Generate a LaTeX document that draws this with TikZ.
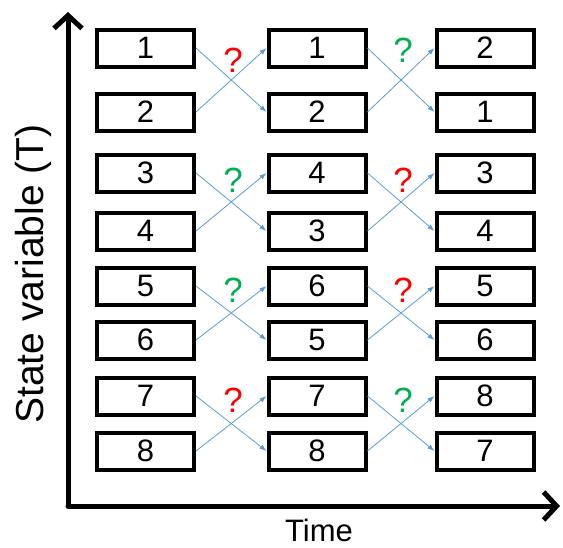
\documentclass[tikz,border=0pt]{standalone}
\usepackage{fontspec}
\setmainfont{Liberation Sans}
\usetikzlibrary{arrows.meta}
\definecolor{linkblue}{HTML}{5B9BD5}
\definecolor{qred}{HTML}{FF0000}
\definecolor{qgreen}{HTML}{00B050}
\begin{document}
\begin{tikzpicture}[x=1pt,y=-1pt,
  box/.style={draw=black,line width=4pt,minimum width=97pt,minimum height=37pt,inner sep=0pt,font=\fontsize{31}{31}\selectfont},
  link/.style={draw=linkblue,line width=0.8pt,-{Latex[length=7pt,width=5pt]}},
  axis/.style={line width=5pt,line cap=round,line join=round,-{Straight Barb[length=13pt,width=28pt,line width=5pt]}},
  qm/.style={inner sep=0pt,font=\fontsize{35}{35}\selectfont},
  lbl/.style={inner sep=0pt}]
\useasboundingbox (0,0) rectangle (563,547);
% axes
\coordinate (origin) at (68,506);
\coordinate (ytop) at (68,12);
\coordinate (xend) at (560,506);
\draw[axis] (origin) -- (ytop);
\draw[axis] (origin) -- (xend);
\node[lbl,rotate=90,anchor=base,font=\fontsize{39}{39}\selectfont] (ylab) at (43,274) {State variable (T)};
\node[lbl,anchor=base,font=\fontsize{31}{31}\selectfont] (xlab) at (319,541) {Time};
% boxes
\foreach \r/\y/\la/\lb/\lc in {1/48/1/1/2, 2/112/2/2/1, 3/173/3/4/3, 4/231/4/3/4, 5/286/5/6/5, 6/340/6/5/6, 7/396/7/7/8, 8/451/8/8/7}{
  \node[box] (a\r) at (145.5,\y) {\la};
  \node[box] (b\r) at (317,\y) {\lb};
  \node[box] (c\r) at (485,\y) {\lc};
}
% links
\foreach \p/\q in {1/2,3/4,5/6,7/8}{
  \draw[link] (a\p.east) -- (b\q.west);
  \draw[link] (a\q.east) -- (b\p.west);
  \draw[link] (b\p.east) -- (c\q.west);
  \draw[link] (b\q.east) -- (c\p.west);
}
% question marks
\node[qm,text=qred]   (q1) at (233,60) {?};
\node[qm,text=qgreen] (q2) at (233,180) {?};
\node[qm,text=qgreen] (q3) at (233,290) {?};
\node[qm,text=qred]   (q4) at (233,400) {?};
\node[qm,text=qgreen] (q5) at (403,50) {?};
\node[qm,text=qred]   (q6) at (403,180) {?};
\node[qm,text=qred]   (q7) at (403,290) {?};
\node[qm,text=qgreen] (q8) at (403,400) {?};
\end{tikzpicture}
\end{document}
